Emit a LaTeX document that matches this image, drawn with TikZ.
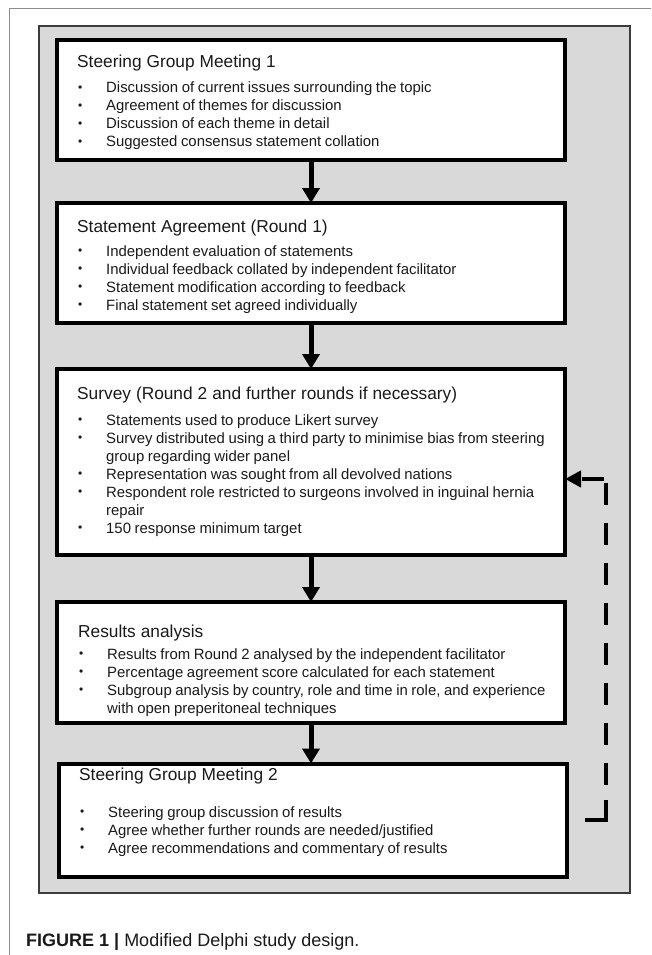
\documentclass[tikz,border=0pt]{standalone}
\usepackage{fontspec}
\setmainfont{Liberation Sans}
\usetikzlibrary{arrows.meta,calc}
\definecolor{panelfill}{HTML}{D9D9D9}
\definecolor{panelline}{HTML}{3C3C3C}
\definecolor{frameline}{HTML}{8C8C8C}
\definecolor{txt}{HTML}{1A1A1A}
\newcommand{\bitem}[1]{\par\hangindent=29pt\hangafter=1\noindent\makebox[29pt][l]{\hspace{0.8pt}\raisebox{1.2pt}{\scalebox{0.8}{•}}}#1}
\newcommand{\btitle}[2]{{\fontsize{17.3}{18}\selectfont #1}\par\vspace{#2}\spaceskip=3.6pt\relax}
\tikzset{
  box/.style={draw=black, line width=4pt, fill=white, rectangle, inner sep=0pt, outer sep=0pt},
  content/.style={anchor=base west, inner sep=0pt, text width=500pt, align=left, font=\fontsize{14.9}{18}\selectfont, text=txt},
  flowarrow/.style={line width=5pt, -{Triangle[width=17pt,length=15pt]}},
  loopline/.style={line width=4.5pt,
    dash pattern=on 2pt off 16pt on 41pt off 15pt on 22pt off 18pt on 22pt off 18pt on 22pt off 18pt on 22pt off 18pt on 22pt off 18pt on 22pt off 18pt on 22pt off 18pt on 22pt off 6pt on 22pt off 100pt,
    -{Triangle[width=16pt,length=16pt]}},
}
\begin{document}
\begin{tikzpicture}[x=1pt,y=-1pt]
\useasboundingbox (0,0) rectangle (651,955);
\fill[white] (0,0) rectangle (651,955);
\draw[frameline, line width=1.2pt] (651,8.3) -- (9.3,8.3) -- (9.3,955);
\draw[panelline, fill=panelfill, line width=1.5pt] (39,26) rectangle (630,893);

\node[box, minimum width=508pt, minimum height=120pt] (B1) at (311,100) {};
\node[box, minimum width=508pt, minimum height=120pt] (B2) at (311,263) {};
\node[box, minimum width=508pt, minimum height=186pt] (B3) at (311,462) {};
\node[box, minimum width=508pt, minimum height=121pt] (B4) at (311,662.5) {};
\node[box, minimum width=508pt, minimum height=113pt] (B5) at (313,820) {};

\node[content] (T1) at (77,68) {\btitle{Steering Group Meeting 1}{7pt}%
\bitem{Discussion of current issues surrounding the topic}
\bitem{Agreement of themes for discussion}
\bitem{Discussion of each theme in detail}
\bitem{Suggested consensus statement collation}\par};

\node[content] (T2) at (77,232) {\btitle{Statement Agreement (Round 1)}{6pt}%
\bitem{Independent evaluation of statements}
\bitem{Individual feedback collated by independent facilitator}
\bitem{Statement modification according to feedback}
\bitem{Final statement set agreed individually}\par};

\node[content] (T3) at (77,399) {\btitle{Survey (Round 2 and further rounds if necessary)}{8pt}%
\bitem{Statements used to produce Likert survey}
\bitem{Survey distributed using a third party to minimise bias from steering\newline group regarding wider panel}
\bitem{Representation was sought from all devolved nations}
\bitem{Respondent role restricted to surgeons involved in inguinal hernia\newline repair}
\bitem{150 response minimum target}\par};

\node[content] (T4) at (78,637) {\btitle{Results analysis}{4pt}%
\bitem{Results from Round 2 analysed by the independent facilitator}
\bitem{Percentage agreement score calculated for each statement}
\bitem{Subgroup analysis by country, role and time in role, and experience\newline with open preperitoneal techniques}\par};

\node[content] (T5) at (79,780.5) {\btitle{Steering Group Meeting 2}{18.5pt}%
\bitem{Steering group discussion of results}
\bitem{Agree whether further rounds are needed/justified}
\bitem{Agree recommendations and commentary of results}\par};

\draw[flowarrow] (B1.south) -- (B2.north);
\draw[flowarrow] (B2.south) -- (B3.north);
\draw[flowarrow] (B3.south) -- (B4.north);
\draw[flowarrow] (B4.south) -- (B4.south |- B5.north);

\coordinate (FBin) at ([yshift=-17pt]B3.east);
\draw[loopline] (B5.east) -- ++(39,0) |- (FBin);

\node[anchor=base west, inner sep=0pt, font=\fontsize{18}{20}\selectfont, text=txt] (CAP) at (26,946)
  {\textbf{FIGURE 1 |} Modified Delphi study design.};
\end{tikzpicture}
\end{document}
